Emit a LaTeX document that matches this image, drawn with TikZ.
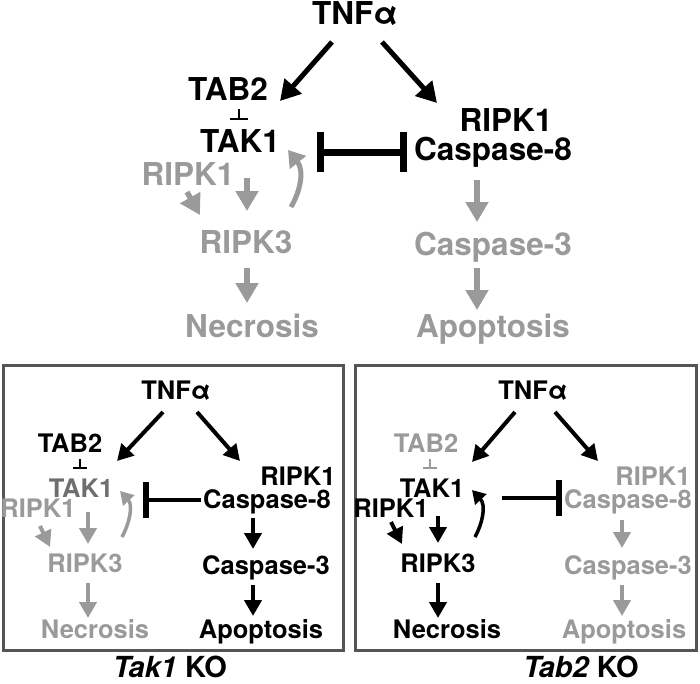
\documentclass[tikz,border=0pt]{standalone}
\usepackage{fontspec}
\setmainfont{TeX Gyre Heros}
\usetikzlibrary{arrows.meta,calc}
\definecolor{lgray}{HTML}{9A9A9A}
\definecolor{dgray}{HTML}{6E6E6E}
\definecolor{boxgray}{HTML}{555555}
\begin{document}
\begin{tikzpicture}[x=1pt,y=-1pt,
  big/.style={inner sep=0pt,anchor=base,font=\fontsize{31.5}{34}\selectfont\bfseries},
  small/.style={inner sep=0pt,anchor=base,font=\fontsize{25.5}{28}\selectfont\bfseries},
  caption/.style={inner sep=0pt,anchor=base,font=\fontsize{29}{32}\selectfont\bfseries},
  bigarr/.style={line width=5pt,-{Triangle[length=20pt,width=22pt]}},
  midarr/.style={line width=5.5pt,-{Triangle[length=20pt,width=22pt]}},
  curarr/.style={line width=5pt,-{Triangle[length=16pt,width=20pt]}},
  smallarr/.style={line width=4pt,-{Triangle[length=16pt,width=17pt]}},
  scurarr/.style={line width=3.5pt,-{Triangle[length=13pt,width=15pt]}},
  bigbarline/.style={line width=7pt},
  smbarline/.style={line width=4.5pt},
  smbarend/.style={line width=6.5pt},
  tbar/.style={line width=2.5pt,-{Bar[width=18pt]}},
  tbarsm/.style={line width=2.2pt,-{Bar[width=14pt]}},
  panel/.style={draw=boxgray,line width=3pt}
]
\useasboundingbox (0,0) rectangle (700,683);

% ===================== top diagram =====================
\node[big] (tnf) at (355,24) {TNFα};
\node[big] (tab2) at (228,100) {TAB2};
\node[big] (tak1) at (240,152) {TAK1};
\node[big,lgray] (ripk1a) at (188,185) {RIPK1};
\node[big,lgray] (ripk3) at (246,253) {RIPK3};
\node[big,lgray] (necr) at (252,337) {Necrosis};
\node[big] (ripk1b) at (506,131) {RIPK1};
\node[big] (casp8) at (493,160) {Caspase-8};
\node[big,lgray] (casp3) at (493,255) {Caspase-3};
\node[big,lgray] (apop) at (493,337) {Apoptosis};

\coordinate (t1) at (332,42);  \coordinate (t1e) at (280,101);
\coordinate (t2) at (382,42);  \coordinate (t2e) at (437,103);
\draw[bigarr] (t1) -- (t1e);
\draw[bigarr] (t2) -- (t2e);

\coordinate (ib1) at (239,109); \coordinate (ib1e) at (239,120);
\draw[tbar] (ib1) -- (ib1e);

\coordinate (bb1) at (320,152); \coordinate (bb2) at (403,152);
\draw[bigbarline] (bb1) -- (bb2);
\draw[bigbarline] ($(bb1)+(0,-20)$) -- ($(bb1)+(0,20)$);
\draw[bigbarline] ($(bb2)+(0,-20)$) -- ($(bb2)+(0,20)$);

\coordinate (g1) at (247,178); \coordinate (g1e) at (247,211);
\draw[midarr,lgray] (g1) -- (g1e);
\coordinate (g2) at (247,268); \coordinate (g2e) at (247,303);
\draw[midarr,lgray] (g2) -- (g2e);
\coordinate (g3) at (477,180); \coordinate (g3e) at (477,222);
\draw[midarr,lgray] (g3) -- (g3e);
\coordinate (g4) at (477,268); \coordinate (g4e) at (477,310);
\draw[midarr,lgray] (g4) -- (g4e);

\coordinate (r1) at (187,192); \coordinate (r1e) at (200,215);
\draw[midarr,lgray] (r1) -- (r1e);

\coordinate (c1) at (291,207); \coordinate (c1e) at (288,150);
\draw[curarr,lgray] (c1) .. controls (301,190) and (304,170) .. (c1e);

% ===================== left panel (Tak1 KO) =====================
\draw[panel] (3.5,365) rectangle (343,650);
\node[caption] (lab1) at (170,677) {\itshape Tak1\upshape\ KO};

\node[small] (Ltnf) at (176,399) {TNFα};
\node[small] (Ltab2) at (70,452) {TAB2};
\node[small,dgray] (Ltak1) at (81,497) {TAK1};
\node[small,lgray] (Lripk1a) at (38,517) {RIPK1};
\node[small,lgray] (Lripk3) at (85,572) {RIPK3};
\node[small,lgray] (Lnecr) at (95,638) {Necrosis};
\node[small] (Lripk1b) at (298,485) {RIPK1};
\node[small] (Lcasp8) at (267,508) {Caspase-8};
\node[small] (Lcasp3) at (266,574) {Caspase-3};
\node[small] (Lapop) at (261,638) {Apoptosis};

\coordinate (l1) at (163,412); \coordinate (l1e) at (117,461);
\coordinate (l2) at (197,412); \coordinate (l2e) at (240,461);
\draw[smallarr] (l1) -- (l1e);
\draw[smallarr] (l2) -- (l2e);
\coordinate (lib) at (80,459); \coordinate (libe) at (80,469);
\draw[tbarsm] (lib) -- (libe);
\coordinate (lbb1) at (201,500); \coordinate (lbb2) at (146,500);
\draw[smbarline] (lbb1) -- (lbb2);
\draw[smbarend] ($(lbb2)+(0,-18)$) -- ($(lbb2)+(0,18)$);
\coordinate (lg1) at (88,512); \coordinate (lg1e) at (88,544);
\draw[smallarr,lgray] (lg1) -- (lg1e);
\coordinate (lg2) at (88,583); \coordinate (lg2e) at (88,618);
\draw[smallarr,lgray] (lg2) -- (lg2e);
\coordinate (lb1) at (253,518); \coordinate (lb1e) at (253,549);
\draw[smallarr] (lb1) -- (lb1e);
\coordinate (lb2) at (253,585); \coordinate (lb2e) at (253,616);
\draw[smallarr] (lb2) -- (lb2e);
\coordinate (lr1) at (40,526); \coordinate (lr1e) at (50,547);
\draw[smallarr,lgray] (lr1) -- (lr1e);
\coordinate (lc1) at (122,537); \coordinate (lc1e) at (120,491);
\draw[scurarr,lgray] (lc1) .. controls (130,522) and (133,505) .. (lc1e);

% ===================== right panel (Tab2 KO) =====================
\draw[panel] (355.5,365) rectangle (696.5,650);
\node[caption] (lab2) at (581,677) {\itshape Tab2\upshape\ KO};

\node[small] (Rtnf) at (533,399) {TNFα};
\node[small,lgray] (Rtab2) at (426,452) {TAB2};
\node[small] (Rtak1) at (432,497) {TAK1};
\node[small] (Rripk1a) at (391,517) {RIPK1};
\node[small] (Rripk3) at (438,572) {RIPK3};
\node[small] (Rnecr) at (447,638) {Necrosis};
\node[small,lgray] (Rripk1b) at (653,485) {RIPK1};
\node[small,lgray] (Rcasp8) at (628,508) {Caspase-8};
\node[small,lgray] (Rcasp3) at (628,574) {Caspase-3};
\node[small,lgray] (Rapop) at (624,638) {Apoptosis};

\coordinate (r1s) at (515,412); \coordinate (r1t) at (472,462);
\coordinate (r2s) at (555,412); \coordinate (r2t) at (598,461);
\draw[smallarr] (r1s) -- (r1t);
\draw[smallarr] (r2s) -- (r2t);
\coordinate (rib) at (430,459); \coordinate (ribe) at (430,469);
\draw[tbarsm,lgray] (rib) -- (ribe);
\coordinate (rbb1) at (502,498); \coordinate (rbb2) at (559,498);
\draw[smbarline] (rbb1) -- (rbb2);
\draw[smbarend] ($(rbb2)+(0,-18)$) -- ($(rbb2)+(0,18)$);
\coordinate (rg1) at (438,516); \coordinate (rg1e) at (438,543);
\draw[smallarr] (rg1) -- (rg1e);
\coordinate (rg2) at (438,583); \coordinate (rg2e) at (438,618);
\draw[smallarr] (rg2) -- (rg2e);
\coordinate (rb1) at (622,520); \coordinate (rb1e) at (622,548);
\draw[smallarr,lgray] (rb1) -- (rb1e);
\coordinate (rb2) at (622,585); \coordinate (rb2e) at (622,616);
\draw[smallarr,lgray] (rb2) -- (rb2e);
\coordinate (rr1) at (391,522); \coordinate (rr1e) at (402,544);
\draw[smallarr] (rr1) -- (rr1e);
\coordinate (rc1) at (475,537); \coordinate (rc1e) at (472,490);
\draw[scurarr] (rc1) .. controls (483,522) and (486,505) .. (rc1e);
\end{tikzpicture}
\end{document}
